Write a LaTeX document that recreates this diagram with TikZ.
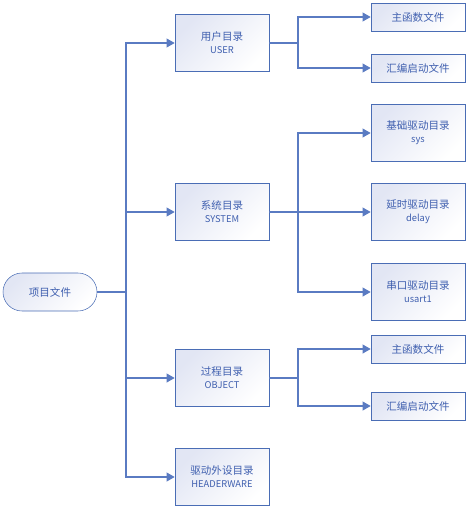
\documentclass[tikz,border=0pt]{standalone}
\usepackage{xcolor}
\usepackage{fontspec}
\setmainfont{Noto Sans CJK SC}
\usepackage{tikz}
\usetikzlibrary{arrows.meta, positioning}
\definecolor{dirblue}{HTML}{4A6DB5}
\definecolor{dirfill}{HTML}{E2E6F4}
\definecolor{dirtext}{HTML}{3F5FAF}
\definecolor{linkblue}{HTML}{5A7BC2}
\newcommand{\subtxt}[1]{{\fontsize{7}{9}\selectfont #1}}

\begin{document}
\begin{tikzpicture}
  [
    x=0.75pt, y=-0.75pt,
    Dir/.style={rectangle, draw=dirblue, top color=dirfill, bottom color=white, shading angle=45, minimum width=70.5pt, minimum height=42.75pt, inner sep=0pt, align=center, text=dirtext, font=\fontsize{7.9}{9.75}\selectfont},
    File/.style={Dir, minimum height=21pt},
    Root/.style={Dir, rounded corners=14.25pt, minimum height=28.5pt},
    Link/.style={draw=linkblue, line width=1.1pt},
    Arrow/.style={Link, -{Triangle[length=6pt, width=6.5pt]}}
  ]
  \useasboundingbox (0,0) rectangle (471,518);
  % Nodes
  \node[Root] (root) at (50, 292) {项目文件};
  \node[Dir] (user) at (222, 43) {用户目录\\\subtxt{USER}};
  \node[Dir] (system) at (222, 212) {系统目录\\\subtxt{SYSTEM}};
  \node[Dir] (object) at (222, 378) {过程目录\\\subtxt{OBJECT}};
  \node[Dir] (driver) at (222, 477) {驱动外设目录\\\subtxt{HEADERWARE}};
  \node[File] (umain) at (418, 17) {主函数文件};
  \node[File] (uasm) at (418, 68) {汇编启动文件};
  \node[Dir] (sys) at (418, 133) {基础驱动目录\\\subtxt{sys}};
  \node[Dir] (delay) at (418, 212) {延时驱动目录\\\subtxt{delay}};
  \node[Dir] (usart) at (418, 292) {串口驱动目录\\\subtxt{usart1}};
  \node[File] (omain) at (418, 349) {主函数文件};
  \node[File] (oasm) at (418, 406) {汇编启动文件};
  % Branch points
  \coordinate (trunk) at (126, 292);
  \coordinate (ubr) at (298, 43);
  \coordinate (sbr) at (298, 212);
  \coordinate (obr) at (298, 378);
  % Lines
  \path [Link] (root) -- (trunk);
  \path [Arrow] (trunk) |- (user);
  \path [Arrow] (trunk) |- (system);
  \path [Arrow] (trunk) |- (object);
  \path [Arrow] (trunk) |- (driver);
  \path [Link] (user) -- (ubr);
  \path [Arrow] (ubr) |- (umain);
  \path [Arrow] (ubr) |- (uasm);
  \path [Link] (system) -- (sbr);
  \path [Arrow] (sbr) |- (sys);
  \path [Arrow] (sbr) -- (delay);
  \path [Arrow] (sbr) |- (usart);
  \path [Link] (object) -- (obr);
  \path [Arrow] (obr) |- (omain);
  \path [Arrow] (obr) |- (oasm);
\end{tikzpicture}
\end{document}
